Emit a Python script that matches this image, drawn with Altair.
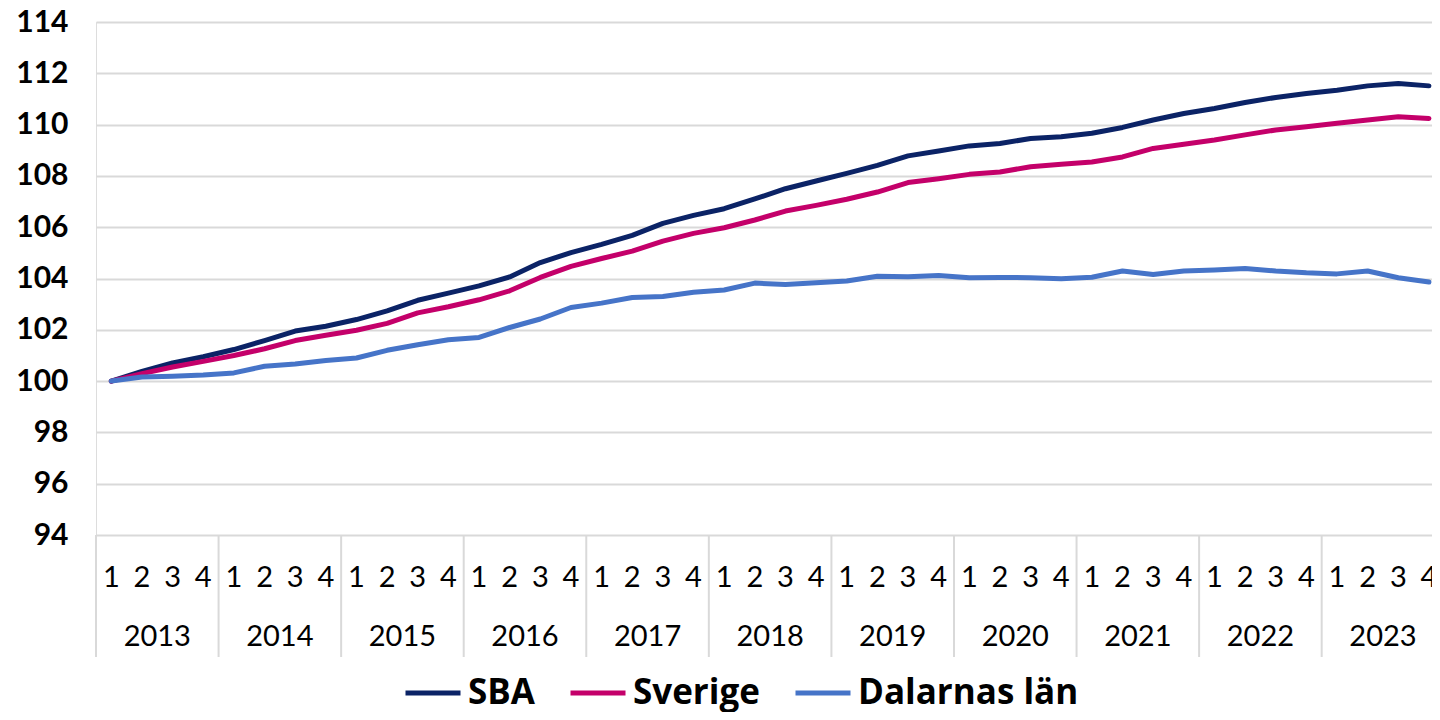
import altair as alt
import pandas as pd

years = [str(y) for y in range(2013, 2024)]
quarters = ["1", "2", "3", "4"]
series_names = ["SBA", "Sverige", "Dalarnas län"]
series_colors = ["#0B2366", "#C4006A", "#4674C8"]

sba = [100.0, 100.38, 100.71, 100.95, 101.23, 101.58, 101.95, 102.14, 102.4, 102.74,
       103.15, 103.43, 103.71, 104.06, 104.62, 105.01, 105.33, 105.68, 106.15, 106.46,
       106.72, 107.1, 107.5, 107.8, 108.1, 108.41, 108.78, 108.97, 109.17, 109.26,
       109.46, 109.53, 109.66, 109.89, 110.18, 110.43, 110.63, 110.86, 111.06, 111.21,
       111.34, 111.51, 111.6, 111.51]
sverige = [100.0, 100.29, 100.55, 100.77, 101.0, 101.26, 101.58, 101.79, 101.98, 102.25,
           102.66, 102.9, 103.17, 103.52, 104.04, 104.47, 104.78, 105.07, 105.46, 105.76,
           105.98, 106.28, 106.63, 106.85, 107.09, 107.37, 107.74, 107.89, 108.06, 108.15,
           108.36, 108.45, 108.54, 108.74, 109.07, 109.23, 109.4, 109.6, 109.79, 109.92,
           110.05, 110.18, 110.31, 110.24]
dalarna = [100.0, 100.16, 100.19, 100.24, 100.32, 100.58, 100.67, 100.8, 100.9, 101.2,
           101.42, 101.61, 101.7, 102.09, 102.42, 102.87, 103.04, 103.26, 103.3, 103.46,
           103.55, 103.82, 103.77, 103.83, 103.9, 104.09, 104.07, 104.12, 104.03, 104.04,
           104.03, 103.99, 104.05, 104.29, 104.16, 104.29, 104.33, 104.39, 104.29, 104.22,
           104.18, 104.29, 104.03, 103.86]

FONT = "Lato"
LEG_FONT = "Open Sans"
W, H = 1336, 513
XMAX = 43.6

rows = []
for name, vals in zip(series_names, [sba, sverige, dalarna]):
    for i, v in enumerate(vals):
        rows.append({"pos": i + 0.5, "value": v, "serie": name, "ord": series_names.index(name)})
lines_df = pd.DataFrame(rows)

q_df = pd.DataFrame([{"pos": yi * 4 + qi + 0.5, "lab": q}
                     for yi, _ in enumerate(years) for qi, q in enumerate(quarters)])
y_df = pd.DataFrame([{"pos": yi * 4 + 2, "lab": y} for yi, y in enumerate(years)])
sep_df = pd.DataFrame([{"pos": yi * 4} for yi, _ in enumerate(years)])

xscale = alt.Scale(domain=[0, XMAX], nice=False, zero=False)

lines = alt.Chart(lines_df).mark_line(strokeWidth=5, strokeCap="round", strokeJoin="round").encode(
    x=alt.X("pos:Q", scale=xscale, axis=None),
    y=alt.Y("value:Q",
            scale=alt.Scale(domain=[94, 114], nice=False, zero=False),
            axis=alt.Axis(values=list(range(94, 115, 2)), title=None, ticks=False, domain=False,
                          labelFont=FONT, labelFontSize=30, labelFontWeight="bold",
                          labelColor="#000000", labelPadding=28,
                          grid=True, gridColor="#D9D9D9", gridWidth=2)),
    color=alt.Color("serie:N",
                    scale=alt.Scale(domain=series_names, range=series_colors),
                    legend=alt.Legend(title=None, orient="none", direction="horizontal",
                                      legendX=307, legendY=641,
                                      symbolType="stroke", symbolSize=3025, symbolStrokeWidth=5,
                                      labelFont=LEG_FONT, labelFontSize=35, labelFontWeight="bold",
                                      labelColor="#000000", labelOffset=5, columnPadding=25,
                                      labelLimit=400)),
    order=alt.Order("ord:Q"),
)

seps = alt.Chart(sep_df).mark_rule(color="#D9D9D9", strokeWidth=2).encode(
    x=alt.X("pos:Q", scale=xscale, axis=None),
    y=alt.value(H),
    y2=alt.value(H + 122),
)

qlabels = alt.Chart(q_df).mark_text(font=FONT, fontSize=29, color="#000000", baseline="middle").encode(
    x=alt.X("pos:Q", scale=xscale, axis=None),
    y=alt.value(H + 43),
    text="lab:N",
)

ylabels = alt.Chart(y_df).mark_text(font=FONT, fontSize=29, color="#000000", baseline="middle").encode(
    x=alt.X("pos:Q", scale=xscale, axis=None),
    y=alt.value(H + 102),
    text="lab:N",
)

chart = alt.layer(seps, qlabels, ylabels, lines).properties(
    width=W, height=H,
    autosize=alt.AutoSizeParams(type="none"),
    padding={"left": 88, "top": 14, "right": 0, "bottom": 177},
).configure_view(stroke=None).configure(background="white")

chart.save("out.html", embed_options={"renderer": "svg", "actions": False})
